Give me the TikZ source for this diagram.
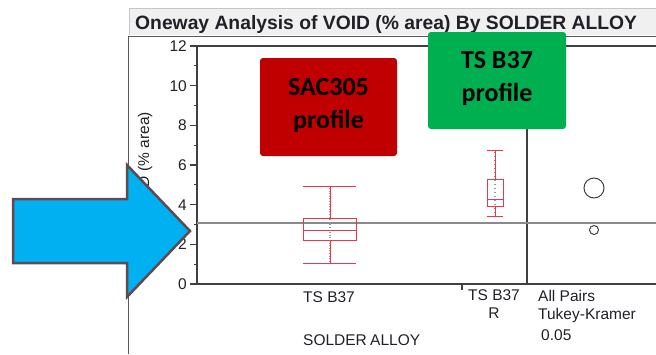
\documentclass[tikz,border=0pt]{standalone}
\usepackage{fontspec}
\setmainfont{Liberation Sans}
\newfontfamily\calibfont{Carlito}
\definecolor{boxred}{HTML}{E8384A}
\definecolor{sacred}{HTML}{C00000}
\definecolor{tsgreen}{HTML}{00B050}
\definecolor{arrowblue}{HTML}{00B0F0}
\definecolor{arrowedge}{HTML}{5F4A52}
\definecolor{axisgray}{HTML}{404040}
\definecolor{meangray}{HTML}{8A8A8A}
\definecolor{dotgray}{HTML}{9A9A9A}
\definecolor{txt}{HTML}{202028}
\begin{document}
\begin{tikzpicture}[x=1pt,y=-1pt,
  lab/.style={inner sep=0pt, text=txt, font=\fontsize{15.5}{18}\selectfont},
  axisline/.style={draw=axisgray, line width=1.1pt},
  bp/.style={draw=boxred, line width=1pt},
  profilebox/.style={rounded corners=3pt},
  profiletext/.style={inner sep=0pt, align=center, text=black,
     font=\calibfont\bfseries\fontsize{26}{33}\selectfont},
  cmpcircle/.style={draw=axisgray, line width=1pt}]
\useasboundingbox (0,0) rectangle (656,354);
% title bar
\fill[gray!12] (129,8) rectangle (656,35);
\draw[gray!45, line width=0.8pt] (656,8) -- (129,8) -- (129,35);
\node[anchor=base west, inner sep=0pt, text=txt, font=\bfseries\fontsize{19.3}{22}\selectfont] (title) at (135,29) {Oneway Analysis of VOID (\% area) By SOLDER ALLOY};
% outer frame
\draw[gray!70!black, line width=1pt] (128,354) -- (128,36) -- (656,36);
% plot frame
\coordinate (tl) at (197,46);
\coordinate (bl) at (197,284);
\coordinate (tm) at (527,46);
\coordinate (bm) at (527,284);
\coordinate (tr) at (656,46);
\coordinate (br) at (656,284);
\draw[axisline] (tl) -- (tr);
\draw[axisline] (bl) -- (br);
\draw[axisline] (tl) -- (bl);
\draw[axisline] (tm) -- (bm);
% mean line
\coordinate (ml) at (197,223);
\coordinate (mr) at (656,223);
\draw[draw=meangray, line width=1.2pt] (ml) -- (mr);
% ticks
\foreach \v in {0,2,...,12} {
  \draw[axisline] (190,{284-\v*19.83}) -- (197,{284-\v*19.83});
  \node[lab, anchor=base east] (t\v) at (187,{284-\v*19.83+5.5}) {\v};
}
\foreach \v in {1,3,...,11} {
  \draw[axisline] (193.5,{284-\v*19.83}) -- (197,{284-\v*19.83});
}
\draw[axisline] (462,284) -- (462,290);
% box plot 1
\draw[draw=dotgray, line width=1.4pt, dash pattern=on 1pt off 1.6pt] (330,188) -- (330,262);
\draw[bp] (303,186) -- (356,186);
\draw[bp] (303,263) -- (356,263);
\draw[bp] (330,186) -- (330,218);
\draw[bp] (330,240) -- (330,263);
\draw[bp] (303,218) rectangle (356,240);
\draw[bp] (303,230) -- (356,230);
% box plot 2
\draw[draw=dotgray, line width=1.4pt, dash pattern=on 1pt off 3pt] (495,152) -- (495,214);
\draw[bp] (487,150) -- (503,150);
\draw[bp] (487,216) -- (503,216);
\draw[bp] (495,150) -- (495,179);
\draw[bp] (495,206) -- (495,216);
\draw[bp] (487,179) rectangle (503,206);
\draw[bp] (487,199) -- (503,199);
% comparison circles
\draw[cmpcircle] (594,188) circle (10);
\draw[cmpcircle] (594,230) circle (4.5);
% axis labels
\node[lab, anchor=base] (c1) at (329,302) {TS B37};
\node[lab, anchor=base] (c2a) at (494,300) {TS B37};
\node[lab, anchor=base] (c2b) at (494,318) {R};
\node[lab, anchor=base west] (ap) at (538,301) {All Pairs};
\node[lab, anchor=base west] (tk) at (538,319) {Tukey-Kramer};
\node[lab, anchor=base west] (al) at (541,340) {0.05};
\node[lab, anchor=base west] (xl) at (303,345) {SOLDER\hspace{-1pt} ALLOY};
\node[lab, rotate=90] (yl) at (145,163) {VOID (\% area)};
% profile boxes
\fill[profilebox, fill=sacred] (260,58) rectangle (397,156);
\fill[profilebox, fill=tsgreen] (428,32) rectangle (566,129);
\node[profiletext] (sac) at (328.5,106) {\textcolor{black}{SAC305}\\\textcolor{black}{profile}};
\node[profiletext] (tsb) at (497,79) {\textcolor{black}{TS B37}\\\textcolor{black}{profile}};
% arrow
\draw[fill=arrowblue, draw=arrowedge, line width=2.5pt, line join=miter]
  (13,199) -- (127,199) -- (127,165) -- (190,231) -- (127,297) -- (127,263) -- (13,263) -- cycle;
\end{tikzpicture}
\end{document}
